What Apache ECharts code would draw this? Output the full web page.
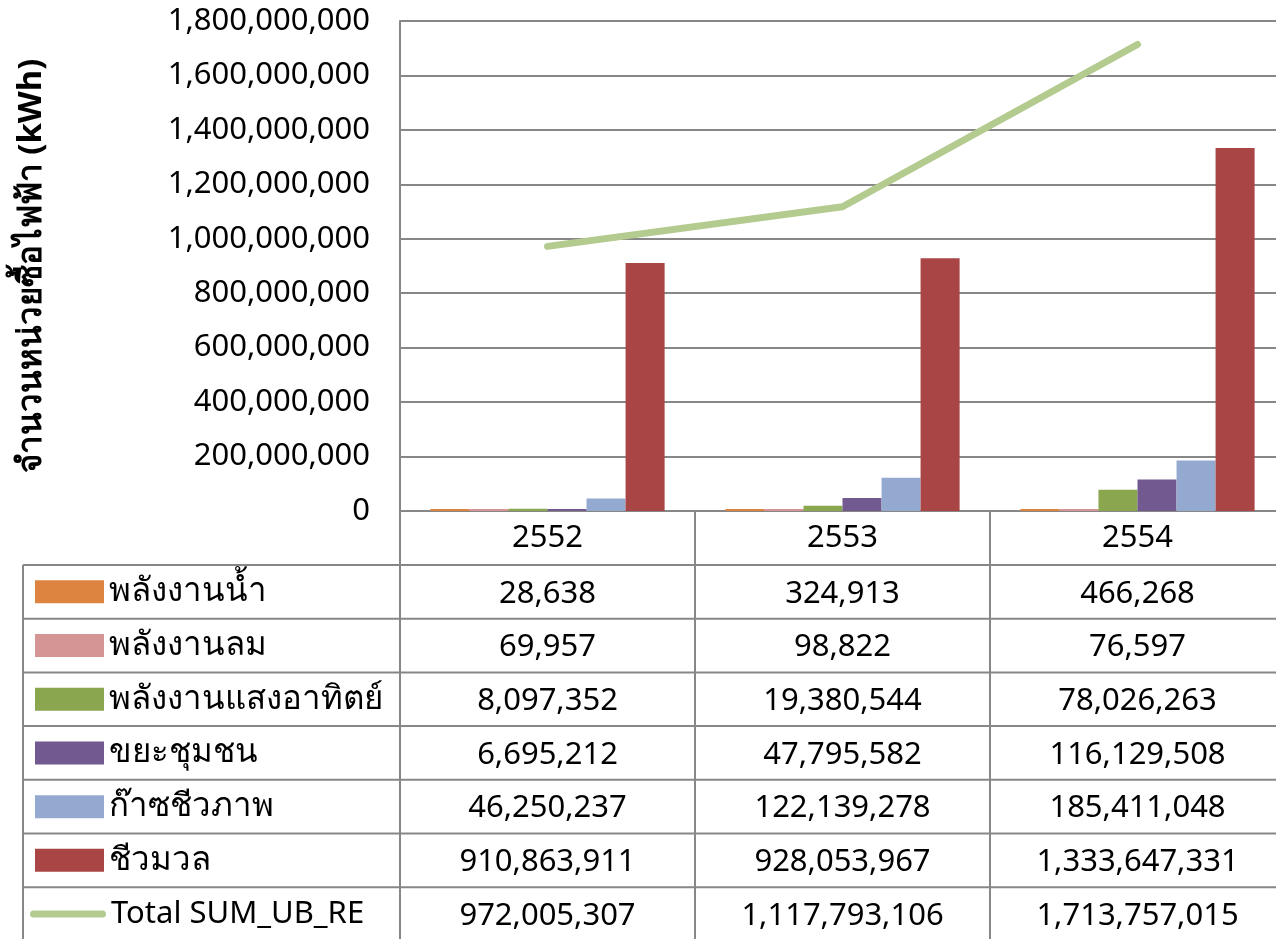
<!DOCTYPE html>
<html><head><meta charset="utf-8">
<script src="https://cdn.jsdelivr.net/npm/echarts@6/dist/echarts.min.js"></script>
<style>html,body{margin:0;padding:0;overflow:hidden;background:#fff}#c{width:1286px;height:939px}</style>
</head><body><div id="c"></div>
<script>
const categories = ['2552', '2553', '2554'];
const hydro = [28638, 324913, 466268];
const wind = [69957, 98822, 76597];
const solar = [8097352, 19380544, 78026263];
const waste = [6695212, 47795582, 116129508];
const biogas = [46250237, 122139278, 185411048];
const biomass = [910863911, 928053967, 1333647331];
const total = [972005307, 1117793106, 1713757015];
const barNames = ['พลังงานน้ำ', 'พลังงานลม', 'พลังงานแสงอาทิตย์', 'ขยะชุมชน', 'ก๊าซชีวภาพ', 'ชีวมวล'];
const lineName = 'Total SUM_UB_RE';
const yAxisTitle = 'จำนวนหน่วยซื้อไฟฟ้า (kWh)';

const barData = [hydro, wind, solar, waste, biogas, biomass];
const barColors = ['#dd8441', '#d69595', '#8aa64f', '#72598f', '#94a9cf', '#a94645'];
const lineColor = '#b4cb90';
const gridColor = '#878787';
const FONT = "'Noto Sans', 'DejaVu Sans', sans-serif";
const fmt = v => Number(v).toLocaleString('en-US');

const chart = echarts.init(document.getElementById('c'), null, {renderer: 'canvas'});

const series = barData.map((d, i) => ({
  name: barNames[i], type: 'bar', data: d,
  barGap: '0%', barCategoryGap: '20.6%', barMinHeight: 2,
  itemStyle: {color: barColors[i]}
}));
series.push({
  name: lineName, type: 'line', data: total, symbol: 'none', z: 5,
  lineStyle: {color: lineColor, width: 7, cap: 'round', join: 'round'},
  itemStyle: {color: lineColor}
});

const option = {
  animation: false,
  textStyle: {fontFamily: FONT},
  grid: {left: 400, right: 1, top: 21, bottom: 428, containLabel: false},
  xAxis: {
    type: 'category', data: categories,
    axisLine: {lineStyle: {color: gridColor, width: 2}},
    axisTick: {show: false},
    axisLabel: {fontSize: 31, color: '#000', margin: 12, fontFamily: FONT}
  },
  yAxis: {
    type: 'value', min: 0, max: 1800000000, interval: 200000000,
    name: yAxisTitle, nameLocation: 'middle', nameRotate: 90, nameGap: 352,
    nameTextStyle: {fontSize: 33, fontWeight: 'bold', color: '#000', fontFamily: FONT},
    axisLine: {show: true, lineStyle: {color: gridColor, width: 2}},
    axisTick: {show: false},
    axisLabel: {fontSize: 31, color: '#000', margin: 30, formatter: fmt, fontFamily: FONT},
    splitLine: {lineStyle: {color: gridColor, width: 2}}
  },
  series: series
};
chart.setOption(option);

// Data table drawn from axis geometry
const c0 = chart.convertToPixel({xAxisIndex: 0}, 0);
const c1 = chart.convertToPixel({xAxisIndex: 0}, 1);
const colW = c1 - c0;
const leftX = c0 - colW / 2;
const yBase = chart.convertToPixel({yAxisIndex: 0}, 0);
const headerH = 54;
const rowH = 53.7;
const tableLeft = 23;
const rows = barData.concat([total]);
const tableBottom = 939 + 5;
const rightX = leftX + colW * categories.length;
const lineStyle = {stroke: gridColor, lineWidth: 2};
const g = [];
for (let i = 0; i <= rows.length; i++) {
  const y = yBase + headerH + i * rowH;
  g.push({type: 'line', shape: {x1: tableLeft, y1: y, x2: rightX, y2: y}, style: lineStyle, silent: true});
}
g.push({type: 'line', shape: {x1: leftX, y1: yBase, x2: leftX, y2: tableBottom}, style: lineStyle, silent: true});
for (let k = 1; k <= categories.length; k++) {
  const x = leftX + k * colW;
  g.push({type: 'line', shape: {x1: x, y1: yBase, x2: x, y2: tableBottom}, style: lineStyle, silent: true});
}
g.push({type: 'line', shape: {x1: tableLeft, y1: yBase + headerH, x2: tableLeft, y2: tableBottom}, style: lineStyle, silent: true});
rows.forEach((r, ri) => {
  const yc = yBase + headerH + (ri + 0.5) * rowH;
  r.forEach((v, ci) => {
    const xc = chart.convertToPixel({xAxisIndex: 0}, ci);
    g.push({type: 'text', x: xc, y: yc + 2, silent: true,
      style: {text: fmt(v), fill: '#000', font: '31px ' + FONT, textAlign: 'center', textVerticalAlign: 'middle'}});
  });
});

// one legend per table row, aligned to the row
const LH = 34;
const legends = barNames.map((n, i) => {
  const yc = yBase + headerH + (i + 0.5) * rowH;
  return {
    orient: 'vertical', left: 35, top: yc - LH / 2, padding: 0,
    itemWidth: 69, itemHeight: 23, selectedMode: false,
    textStyle: {fontSize: 33, lineHeight: LH, color: '#000', fontFamily: FONT},
    data: [{name: n, icon: 'rect'}]
  };
});
{
  const yc = yBase + headerH + (barNames.length + 0.5) * rowH;
  legends.push({
    orient: 'vertical', left: 30, top: yc - LH / 2, padding: 0,
    itemWidth: 76, itemHeight: 7, selectedMode: false,
    textStyle: {fontSize: 31, lineHeight: LH, color: '#000', fontFamily: FONT},
    data: [{name: lineName, icon: 'path://M3.5,0 H72.5 A3.5,3.5 0 0 1 72.5,7 H3.5 A3.5,3.5 0 0 1 3.5,0 Z',
            itemStyle: {color: lineColor}}]
  });
}
chart.setOption({graphic: g, legend: legends});
</script></body></html>
